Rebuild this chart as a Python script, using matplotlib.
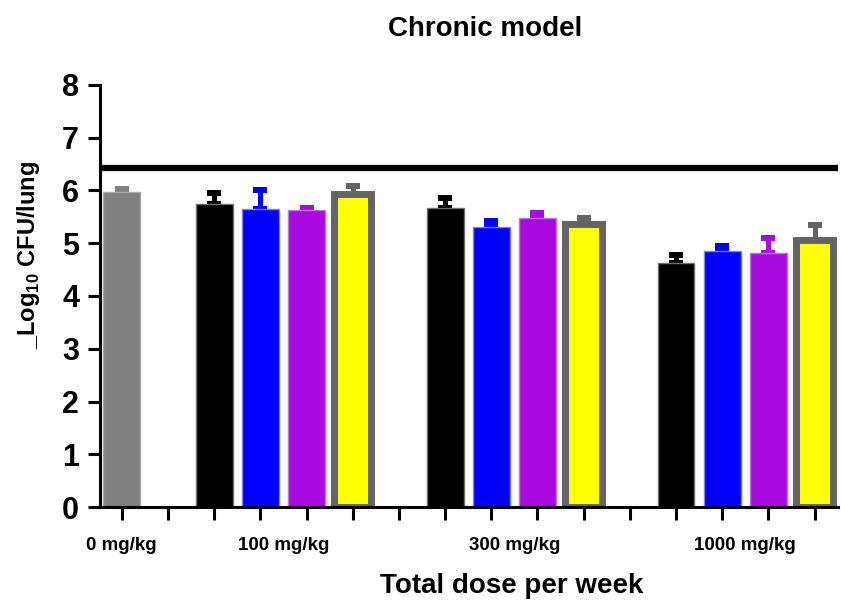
import matplotlib
matplotlib.use("Agg")
import matplotlib.pyplot as plt

# --- data ---
groups = ["0 mg/kg", "100 mg/kg", "300 mg/kg", "1000 mg/kg"]
control_mean = [5.97]
control_err = [0.06]
black_mean = [5.74, 5.67, 4.62]
black_err = [0.21, 0.18, 0.16]
blue_mean = [5.64, 5.30, 4.86]
blue_err = [0.36, 0.12, 0.08]
purple_mean = [5.63, 5.47, 4.82]
purple_err = [0.03, 0.10, 0.28]
yellow_mean = [5.94, 5.36, 5.06]
yellow_err = [0.14, 0.12, 0.29]
baseline = 6.43
yticks = [0, 1, 2, 3, 4, 5, 6, 7, 8]
# ------------------------------

plt.rcParams["font.family"] = ["Liberation Sans", "DejaVu Sans"]
plt.rcParams["font.weight"] = "bold"
plt.rcParams["mathtext.fontset"] = "custom"
plt.rcParams["mathtext.rm"] = "Liberation Sans:bold"
plt.rcParams["mathtext.bf"] = "Liberation Sans:bold"

fig = plt.figure(figsize=(8.41, 6.01), dpi=100)
ax = fig.add_axes([0.119, 0.156, 0.877, 0.703])

W = 0.8
err_kw = dict(elinewidth=3.6, capthick=4.3, capsize=5)

def draw(pos, means, errs, face, edge, lw, ecolor):
    for p, m, e in zip(pos, means, errs):
        ax.errorbar(p, m, yerr=[[0], [e]], fmt="none", ecolor=ecolor,
                    zorder=1, **err_kw)
    ax.bar(pos, means, width=W, color=face, edgecolor=edge, linewidth=lw, zorder=2)

# positions: group starts 0, 2, 7, 12 on an integer slot axis
draw([0], control_mean, control_err, "#808080", "#a8a8a8", 1, "#808080")
draw([2, 7, 12], black_mean, black_err, "#000000", "#707070", 1, "#000000")
draw([3, 8, 13], blue_mean, blue_err, "#0000ff", "#8080ff", 1, "#0000ff")
draw([4, 9, 14], purple_mean, purple_err, "#a80ae0", "#c070f0", 1, "#a80ae0")
draw([5, 10, 15], yellow_mean, yellow_err, "#ffff00", "#646464", 5, "#646464")

ax.axhline(baseline, color="black", lw=4.5, zorder=3)

ax.set_xlim(-0.47, 15.5)
ax.set_ylim(0, 8)
ax.set_yticks(yticks)
ax.set_yticklabels([str(t) for t in yticks], fontsize=22, fontweight="bold")
ax.set_xticks(range(16))
ax.set_xticklabels([])
ax.tick_params(axis="both", width=2.2, length=9)
ax.tick_params(axis="y", pad=6)

for s in ["top", "right"]:
    ax.spines[s].set_visible(False)
for s in ["left", "bottom"]:
    ax.spines[s].set_linewidth(2.2)

for x, g in zip([0, 3.5, 8.5, 13.5], groups):
    ax.text(x, -0.72, g, ha="center", va="center", fontsize=13.5,
            fontweight="bold", transform=ax.transData)

fig.text(0.577, 0.951, "Chronic model", ha="center", va="center",
         fontsize=20, fontweight="bold")
fig.text(0.608, 0.025, "Total dose per week", ha="center", va="center",
         fontsize=20, fontweight="bold")
fig.text(0.034, 0.576, r"_Log$_{10}$ CFU/lung", ha="center", va="center",
         rotation=90, fontsize=17, fontweight="bold")

fig.savefig("out.png", dpi=100)
